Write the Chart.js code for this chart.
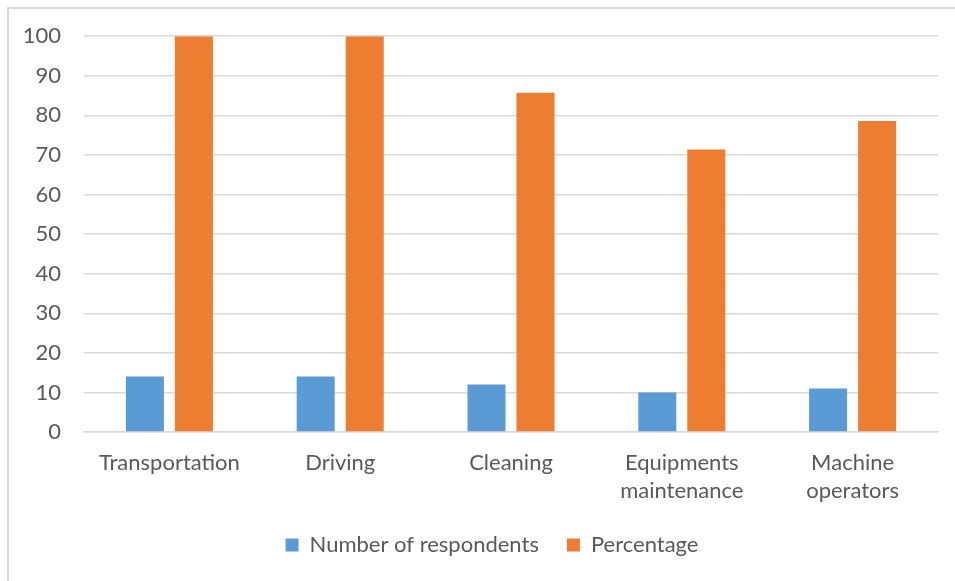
<!DOCTYPE html>
<html>
<head>
<meta charset="utf-8">
<script src="https://cdn.jsdelivr.net/npm/chart.js@4"></script>
<style>
  body { margin: 0; background: #fff; overflow: hidden; }
  #frame { position: absolute; left: 7px; top: 7px; width: 1000px; height: 700px; border: 2px solid #d9d9d9; }
  #wrap { position: absolute; left: 0; top: 0; width: 955px; height: 581px; }
</style>
</head>
<body>
<div id="frame"></div>
<div id="wrap"><canvas id="grafico" width="955" height="581"></canvas></div>
<script>
// categorias y valores
var categorias = ['Transportation', 'Driving', 'Cleaning', ['Equipments', 'maintenance'], ['Machine', 'operators']];
var num_respondentes = [14, 14, 12, 10, 11];
var porcentaje = [100, 100, 85.7, 71.4, 78.6];
var ticks_y = [0, 10, 20, 30, 40, 50, 60, 70, 80, 90, 100];

var gris_texto = '#595959';
var gris_linea = '#d9d9d9';

// la leyenda va un poco corrida a la derecha, como en el original
var correr_leyenda = {
    id: 'correr_leyenda',
    afterLayout: function (chart) {
        chart.legend.left = chart.chartArea.left - 38;
    }
};

var ctx = document.getElementById('grafico').getContext('2d');
var chart = new Chart(ctx, {
    type: 'bar',
    data: {
        labels: categorias,
        datasets: [{
            label: 'Number of respondents',
            data: num_respondentes,
            backgroundColor: '#5b9bd5',
            categoryPercentage: 0.574,
            barPercentage: 0.776
        }, {
            label: 'Percentage',
            data: porcentaje,
            backgroundColor: '#ed7d31',
            categoryPercentage: 0.574,
            barPercentage: 0.776
        }]
    },
    plugins: [correr_leyenda],
    options: {
        responsive: false,
        animation: false,
        layout: { padding: { left: 0, right: 17, top: 33, bottom: 15 } },
        plugins: {
            tooltip: { enabled: false },
            legend: {
                position: 'bottom',
                labels: {
                    color: gris_texto,
                    font: { family: 'Lato', size: 22 },
                    boxWidth: 13,
                    boxHeight: 13,
                    padding: 28,
                    useBorderRadius: false
                }
            }
        },
        scales: {
            x: {
                grid: { display: false, drawTicks: false },
                border: { display: true, color: gris_linea, width: 1.5 },
                ticks: {
                    color: gris_texto,
                    font: { family: 'Lato', size: 22, lineHeight: 1.27 },
                    padding: 17,
                    maxRotation: 0
                },
                // alto fijo para que no se corte la segunda linea
                afterFit: function (scale) { scale.height = 74; }
            },
            y: {
                min: 0,
                max: 100,
                afterBuildTicks: function (scale) {
                    scale.ticks = ticks_y.map(function (v) { return { value: v }; });
                },
                grid: { color: gris_linea, lineWidth: 1.5, drawTicks: false },
                border: { display: false },
                ticks: {
                    color: gris_texto,
                    font: { family: 'Lato', size: 22 },
                    padding: 23
                },
                afterFit: function (scale) { scale.width = 84; }
            }
        }
    }
});
</script>
</body>
</html>
